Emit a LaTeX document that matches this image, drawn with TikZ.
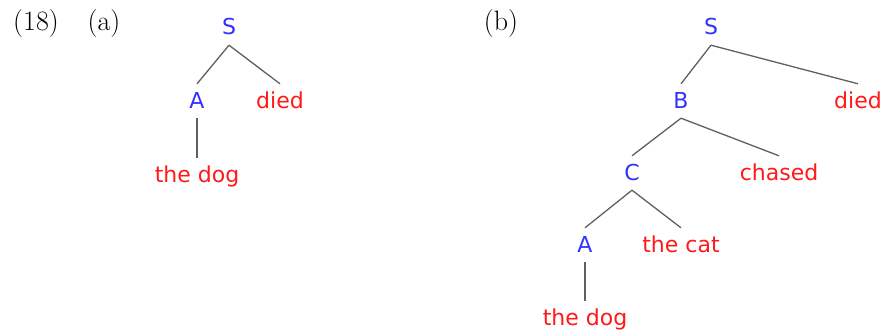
\documentclass[tikz,border=0pt]{standalone}
\usepackage{fontspec}
\newfontfamily\treefont{DejaVu Sans}
\definecolor{catblue}{RGB}{50,50,255}
\definecolor{wordred}{RGB}{255,25,25}
\definecolor{edgegray}{RGB}{95,95,95}

\begin{document}
\begin{tikzpicture}[x=1pt,y=-1pt,
  cat/.style={inner xsep=0pt,inner ysep=9pt,text height=15pt,text depth=1pt,
    font=\treefont\fontsize{22}{25}\selectfont,text=catblue},
  word/.style={cat,text=wordred},
  lbl/.style={inner sep=0pt,font=\fontsize{28}{32}\selectfont},
  edge/.style={draw=edgegray,line width=1.3pt}]
\useasboundingbox (0,0) rectangle (882,329);
% example labels
\node[lbl] (n18) at (36,24) {(18)};
\node[lbl] (la) at (104,24) {(a)};
\node[lbl] (lb) at (501,24) {(b)};

% tree (a)
\node[cat] (aS) at (229,28) {S};
\node[cat] (aA) at (197,101) {A};
\node[word] (adied) at (280,101) {died};
\node[word] (adog) at (197,175) {the dog};

\draw[edge] (aS.south) -- (aA.north);
\draw[edge] (aS.south) -- (adied.north);
\draw[edge] (aA.south) -- (adog.north);

% tree (b)
\node[cat] (bS) at (711,28) {S};
\node[cat] (bB) at (681,101) {B};
\node[word] (bdied) at (858,101) {died};
\node[cat] (bC) at (632,173) {C};
\node[word] (bchased) at (779,173) {chased};
\node[cat] (bA) at (585,245) {A};
\node[word] (bcat) at (681,245) {the cat};
\node[word] (bdog) at (585,318) {the dog};

\draw[edge] (bS.south) -- (bB.north);
\draw[edge] (bS.south) -- (bdied.north);
\draw[edge] (bB.south) -- (bC.north);
\draw[edge] (bB.south) -- (bchased.north);
\draw[edge] (bC.south) -- (bA.north);
\draw[edge] (bC.south) -- (bcat.north);
\draw[edge] (bA.south) -- (bdog.north);
\end{tikzpicture}
\end{document}
